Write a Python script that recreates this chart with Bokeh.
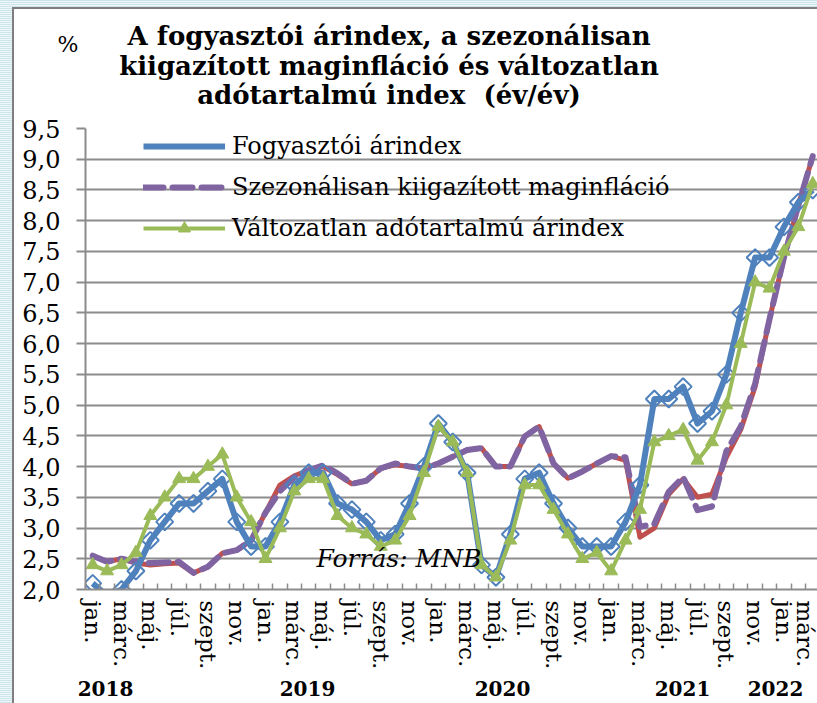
import numpy as np
from bokeh.plotting import figure
from bokeh.layouts import row, column
from bokeh.models import (FixedTicker, CustomJSTickFormatter, Label, Legend, LegendItem,
                          ColumnDataSource, CDSView, BooleanFilter, LinearAxis, Div)
from bokeh.embed import file_html
from bokeh.resources import INLINE

# ---------------- data ----------------
month_abbr = ["jan.", "febr.", "márc.", "ápr.", "máj.", "jún.",
              "júl.", "aug.", "szept.", "okt.", "nov.", "dec."]
years = ["2018", "2019", "2020", "2021", "2022"]

# Fogyasztói árindex (CPI, y/y %), 2018 jan - 2022 márc
cpi = [2.1, 1.9, 2.0, 2.3, 2.8, 3.1, 3.4, 3.4, 3.6, 3.8, 3.1, 2.7,
       2.7, 3.1, 3.7, 3.9, 3.9, 3.4, 3.3, 3.1, 2.8, 2.9, 3.4, 4.0,
       4.7, 4.4, 3.9, 2.4, 2.2, 2.9, 3.8, 3.9, 3.4, 3.0, 2.7, 2.7,
       2.7, 3.1, 3.7, 5.1, 5.1, 5.3, 4.7, 4.9, 5.5, 6.5, 7.4, 7.4,
       7.9, 8.3, 8.5]

# Szezonálisan kiigazított maginfláció
core_sa = [2.55, 2.45, 2.5, 2.45, 2.43, 2.44, 2.45, 2.27, 2.37, 2.59, 2.64, 2.8,
           3.25, 3.6, 3.83, 3.94, 4.02, 3.89, 3.72, 3.77, 3.97, 4.05, 4.0, 3.97,
           4.05, 4.16, 4.27, 4.3, 4.0, 4.0, 4.49, 4.65, 4.05, 3.81, 3.92, 4.05,
           4.17, 4.15, 3.02, 3.07, 3.59, 3.83, 3.29, 3.35, 4.25, 4.65, 5.35, 6.4,
           7.4, 8.25, 9.05]

# Maginfláció (drawn beneath the dashed line, not in the legend)
core = [2.55, 2.45, 2.5, 2.43, 2.4, 2.42, 2.43, 2.27, 2.37, 2.59, 2.64, 2.8,
        3.25, 3.7, 3.85, 3.94, 4.0, 3.87, 3.72, 3.77, 3.97, 4.03, 4.0, 3.97,
        4.05, 4.16, 4.27, 4.3, 4.0, 4.0, 4.49, 4.65, 4.05, 3.81, 3.92, 4.05,
        4.17, 4.1, 2.85, 3.0, 3.55, 3.8, 3.5, 3.55, 4.15, 4.6, 5.3, 6.4,
        7.4, 8.25, 9.05]

# Változatlan adótartalmú árindex
ct = [2.4, 2.3, 2.4, 2.6, 3.2, 3.5, 3.8, 3.8, 4.0, 4.2, 3.5, 3.1,
      2.5, 3.0, 3.6, 3.8, 3.8, 3.2, 3.0, 2.9, 2.7, 2.8, 3.2, 3.9,
      4.65, 4.4, 3.9, 2.4, 2.2, 2.8, 3.7, 3.7, 3.3, 2.9, 2.5, 2.6,
      2.3, 2.8, 3.3, 4.4, 4.5, 4.6, 4.1, 4.4, 5.0, 6.0, 7.0, 6.9,
      7.5, 7.9, 8.6]

y_ticks = [2.0 + 0.5 * k for k in range(16)]

# ---------------- layout constants ----------------
LEFT_W = 14          # striped left frame
TOP_H = 114          # title block height
FIG_W, FIG_H = 817 - LEFT_W, 703 - TOP_H
BL, BT, BB = 71, 14, 114
X0, X1 = -0.5, 50.33
Y0, Y1 = 2.0, 9.5
PPX = (FIG_W - BL) / (X1 - X0)
PPY = (FIG_H - BT - BB) / (Y1 - Y0)


def dx(page_x):
    return X0 + (page_x - LEFT_W - BL) / PPX


def dy(page_y):
    return Y0 + (TOP_H + FIG_H - BB - page_y) / PPY


# positions (page px) of the year captions under the axis
year_label_pos = [dx(px) for px in (105, 307, 502, 682, 775)]

GRAY = "#8c8c8c"
BLUE = "#4f81bd"
PURPLE = "#8064a2"
RED = "#c0504d"
GREEN = "#9bbb59"
SERIF = "DejaVu Serif"
STRIPES = ("repeating-linear-gradient(to bottom, #cde4ea 0px, #cde4ea 1px, "
           "#eef7f9 1px, #eef7f9 2px)")

n = len(cpi)
idx = list(range(n))
src = ColumnDataSource(dict(x=idx, cpi=cpi, core_sa=core_sa, core=core, ct=ct))

p = figure(width=FIG_W, height=FIG_H, x_range=(X0, X1), y_range=(Y0, Y1),
           output_backend="svg", toolbar_location=None,
           min_border_left=BL, min_border_right=0,
           min_border_top=BT, min_border_bottom=BB, margin=(0, 0, 0, 0))
p.outline_line_color = None
p.background_fill_color = "white"
p.border_fill_color = "white"
p.xgrid.grid_line_color = None
p.ygrid.grid_line_color = GRAY
p.ygrid.grid_line_width = 2

# x axis (months)
xa = p.xaxis[0]
xa.ticker = FixedTicker(ticks=list(range(0, n, 2)),
                        minor_ticks=[k - 0.5 for k in range(n + 1)])
xa.major_label_overrides = {i: month_abbr[i % 12] for i in range(0, n, 2)}
xa.major_label_orientation = "vertical"
xa.major_tick_line_color = None
xa.major_tick_in = 0
xa.major_tick_out = 0
xa.minor_tick_in = 6
xa.minor_tick_out = 0
xa.minor_tick_line_color = GRAY
xa.minor_tick_line_width = 1.5
xa.axis_line_color = GRAY
xa.axis_line_width = 2
xa.major_label_text_font = SERIF
xa.major_label_text_font_size = "23px"
xa.major_label_text_color = "black"
xa.major_label_standoff = 11

# second x axis (years)
year_axis = LinearAxis(ticker=FixedTicker(ticks=year_label_pos),
                       formatter=CustomJSTickFormatter(args=dict(labels=years),
                                                       code="return labels[index];"))
year_axis.axis_line_color = None
year_axis.major_tick_line_color = None
year_axis.minor_tick_line_color = None
year_axis.major_tick_in = 0
year_axis.major_tick_out = 0
year_axis.major_label_standoff = 8
year_axis.major_label_text_font = SERIF
year_axis.major_label_text_font_style = "bold"
year_axis.major_label_text_font_size = "20px"
year_axis.major_label_text_color = "black"
p.add_layout(year_axis, "below")

# y axis
ya = p.yaxis[0]
ya.ticker = FixedTicker(ticks=y_ticks)
ya.formatter = CustomJSTickFormatter(code="return tick.toFixed(1).replace('.', ',');")
ya.major_tick_out = 9
ya.major_tick_in = 0
ya.major_tick_line_color = GRAY
ya.major_tick_line_width = 2
ya.minor_tick_line_color = None
ya.axis_line_color = GRAY
ya.axis_line_width = 2
ya.major_label_text_font = SERIF
ya.major_label_text_font_size = "24px"
ya.major_label_text_color = "black"
ya.major_label_standoff = 16

# series
p.line("x", "core", source=src, color=RED, line_width=5, line_join="round")
purple_line = p.line("x", "core_sa", source=src, color=PURPLE, line_width=6,
                     line_dash="20 9", line_cap="round", line_join="round")
blue_line = p.line("x", "cpi", source=src, color=BLUE, line_width=6, line_join="round")
mask = [v >= Y0 for v in cpi]
p.scatter("x", "cpi", source=src, view=CDSView(filter=BooleanFilter(booleans=mask)),
          marker="square", angle=np.pi / 4, size=12, fill_color=None,
          line_color=BLUE, line_width=2)
green_line = p.line("x", "ct", source=src, color=GREEN, line_width=4, line_join="round")
green_tri = p.scatter("x", "ct", source=src, marker="triangle", size=13,
                      fill_color=GREEN, line_color=GREEN)

# legend-only diamond symbol
leg_diamond = p.scatter(x=[], y=[], marker="diamond", size=12,
                        fill_color=BLUE, line_color=BLUE)

legend = Legend(items=[
    LegendItem(label="Fogyasztói árindex", renderers=[blue_line, leg_diamond]),
    LegendItem(label="Szezonálisan kiigazított maginfláció", renderers=[purple_line]),
    LegendItem(label="Változatlan adótartalmú árindex", renderers=[green_line, green_tri]),
], location=(58, 346))
legend.glyph_width = 82
legend.glyph_height = 30
legend.label_height = 30
legend.spacing = 11
legend.label_standoff = 7
legend.padding = 0
legend.margin = 0
legend.background_fill_alpha = 0
legend.border_line_color = None
legend.label_text_font = SERIF
legend.label_text_font_size = "24px"
legend.label_text_color = "black"
p.add_layout(legend)

p.add_layout(Label(x=dx(316), y=dy(558), text="Forrás: MNB", text_align="left",
                   text_baseline="middle", text_font=SERIF,
                   text_font_style="italic", text_font_size="25px",
                   text_color="black"))

# title block and decorative striped frame
title_lines = ["A fogyasztói árindex, a szezonálisan",
               "kiigazított maginfláció és változatlan",
               "adótartalmú index&nbsp; (év/év)"]
title_html = (
    f'<div style="position:relative;width:{FIG_W}px;height:{TOP_H}px;'
    f'overflow:hidden;background:white;">'
    f'<div style="position:absolute;left:0;top:0;width:{FIG_W}px;height:7px;'
    f'background:{STRIPES};"></div>'
    f'<div style="position:absolute;left:0;top:7px;width:{FIG_W}px;height:2px;'
    f'background:#7f7f7f;"></div>'
    f'<div style="position:absolute;left:42px;top:33px;width:24px;text-align:center;'
    f"font-family:'DejaVu Serif',serif;font-size:22px;line-height:24px;color:black;\">%</div>"
    f'<div style="position:absolute;left:0;top:22px;width:750px;text-align:center;'
    f"font-family:'DejaVu Serif',serif;font-weight:bold;font-size:26px;line-height:29.5px;"
    f'color:black;white-space:nowrap;">' + "<br>".join(title_lines) + "</div></div>"
)
title_div = Div(text=title_html, width=FIG_W, height=TOP_H, margin=(0, 0, 0, 0))

left_html = (
    f'<div style="position:relative;width:{LEFT_W}px;height:703px;background:{STRIPES};">'
    f'<div style="position:absolute;left:{LEFT_W - 2}px;top:7px;width:2px;height:696px;'
    f'background:#7f7f7f;"></div></div>'
)
left_div = Div(text=left_html, width=LEFT_W, height=703, margin=(0, 0, 0, 0))

layout = row(left_div, column(title_div, p, spacing=0, margin=(0, 0, 0, 0)),
             spacing=0, margin=(0, 0, 0, 0))

open("out.html", "w").write(file_html(layout, INLINE))
